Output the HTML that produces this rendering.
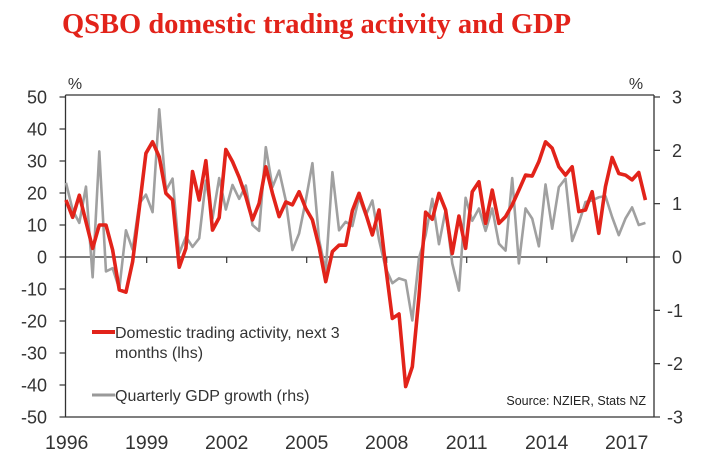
<!DOCTYPE html>
<html><head><meta charset="utf-8"><style>
html,body{margin:0;padding:0;background:#fff;}
svg{display:block;font-family:"Liberation Sans",Arial,sans-serif;}
</style></head><body>
<svg id="chart" width="703" height="467" viewBox="0 0 703 467" xmlns="http://www.w3.org/2000/svg">
<text x="62" y="33" font-family="Liberation Serif, serif" font-weight="bold" font-size="28.5" fill="#e2231a">QSBO domestic trading activity and GDP</text>
<g id="axes"></g>
<g id="series"></g>
<g>
<line x1="92" y1="332" x2="115" y2="332" stroke="#e2231a" stroke-width="4"/>
<text x="115" y="338" font-size="16" fill="#333">Domestic trading activity, next 3</text>
<text x="115" y="358" font-size="16" fill="#333">months (lhs)</text>
<line x1="92" y1="395" x2="115" y2="395" stroke="#999" stroke-width="3"/>
<text x="115" y="401" font-size="16" fill="#333">Quarterly GDP growth (rhs)</text>
</g>
<text x="646" y="405" text-anchor="end" font-size="12.5" fill="#222">Source: NZIER, Stats NZ</text>
<text x="75" y="89" text-anchor="middle" font-size="16" fill="#333">%</text>
<text x="636" y="89" text-anchor="middle" font-size="16" fill="#333">%</text>
</svg>
<script>
const xLabels = ["1996","1999","2002","2005","2008","2011","2014","2017"];
const leftTicks = [50,40,30,20,10,0,-10,-20,-30,-40,-50];
const rightTicks = [3,2,1,0,-1,-2,-3];
const trading = [17.8,12.4,19.3,11,2.7,10,10,2.2,-10.3,-11,-1.5,15.2,32.4,36,31.3,19.9,17.8,-3.2,2.7,26.7,17.8,30.1,8.4,12.3,33.6,29.8,24.9,18.9,11.6,16.8,28.2,19.9,12.6,17.2,16.3,20.4,15.2,11.6,3.2,-7.7,1.7,3.7,3.7,14.5,19.9,13.6,6.9,14.7,-3,-19.2,-17.8,-40.5,-34.3,-12.4,14,11.8,19.9,14.7,1.1,12.8,2.7,20.4,23.5,10.5,20.9,10.5,12.6,16.3,20.9,25.6,25.3,29.8,36,34,28.2,25.6,28.2,14.2,14.7,20.4,7.4,22,31.1,26.1,25.6,24.1,26.4,17.8];
const gdp = [1.39,0.88,0.64,1.32,-0.38,1.98,-0.27,-0.21,-0.6,0.5,0.14,1.0,1.17,0.84,2.77,1.25,1.47,0.07,0.38,0.19,0.35,1.43,0.72,1.48,0.89,1.35,1.09,1.34,0.6,0.49,2.06,1.31,1.62,1.06,0.13,0.44,1.06,1.76,0.32,-0.27,1.59,0.5,0.66,0.58,1.12,0.78,1.06,0.32,-0.21,-0.49,-0.4,-0.44,-1.19,-0.02,0.41,1.09,0.24,0.88,-0.12,-0.63,1.11,0.68,0.91,0.49,0.91,0.25,0.12,1.48,-0.12,0.91,0.72,0.2,1.36,0.53,1.31,1.47,0.3,0.63,1.03,1.06,1.12,1.14,0.75,0.41,0.72,0.93,0.6,0.64];

const NS="http://www.w3.org/2000/svg";
const X0=65.5, X1=654, Y0=97, Y1=417;
const xq = i => X0 + 0.5 + i*6.66;
const xYear = k => 66.7 + k*80;
const yL = v => Y0 + (50-v)/100*(Y1-Y0);
const yR = v => Y0 + (3-v)/6*(Y1-Y0);
function mk(tag,attrs,parent){const e=document.createElementNS(NS,tag);for(const k in attrs)e.setAttribute(k,attrs[k]);parent.appendChild(e);return e;}
const axes=document.getElementById('axes'), ser=document.getElementById('series');
const ax='#333';
let l;
l=mk('line',{x1:X0,y1:95,x2:X1,y2:95,stroke:ax,'stroke-width':1.3},axes);


l=mk('line',{x1:X0,y1:Y1,x2:X1,y2:Y1,stroke:ax,'stroke-width':1.3},axes);


l=mk('line',{x1:X0,y1:95,x2:X0,y2:Y1,stroke:ax,'stroke-width':1.3},axes);


l=mk('line',{x1:X1,y1:95,x2:X1,y2:Y1,stroke:ax,'stroke-width':1.3},axes);


l=mk('line',{x1:X0,y1:yL(0),x2:X1,y2:yL(0),stroke:ax,'stroke-width':1.3},axes);


leftTicks.forEach(v=>{
  const t=mk('line',{x1:X0-6,y1:yL(v),x2:X0,y2:yL(v),stroke:ax,'stroke-width':1.2},axes);
  
  
  const tx=mk('text',{x:47,y:yL(v)+6.5,'text-anchor':'end','font-size':18,fill:'#333'},axes);
  tx.textContent=v;
  
  
});
rightTicks.forEach(v=>{
  const t=mk('line',{x1:X1,y1:yR(v),x2:X1+6,y2:yR(v),stroke:ax,'stroke-width':1.2},axes);
  
  
  const tx=mk('text',{x:v<0?667:672,y:yR(v)+6.5,'text-anchor':'start','font-size':18,fill:'#333'},axes);
  tx.textContent=v;
  
  
});
xLabels.forEach((s,k)=>{
  const x=xYear(k);
  if(k>0){const t=mk('line',{x1:x,y1:yL(0),x2:x,y2:yL(0)+6,stroke:ax,'stroke-width':1.2},axes);
  
  }
  const tx=mk('text',{x:x,y:449,'text-anchor':'middle','font-size':19.5,fill:'#333'},axes);
  tx.textContent=s;
  
  
});
const gp=mk('polyline',{points:gdp.map((v,i)=>xq(i)+','+yR(v)).join(' '),fill:'none',stroke:'#a0a0a0','stroke-width':2.6,'stroke-linejoin':'round'},ser);


const rp=mk('polyline',{points:trading.map((v,i)=>xq(i)+','+yL(v)).join(' '),fill:'none',stroke:'#e2231a','stroke-width':3.6,'stroke-linejoin':'round'},ser);


</script>
</body></html>
